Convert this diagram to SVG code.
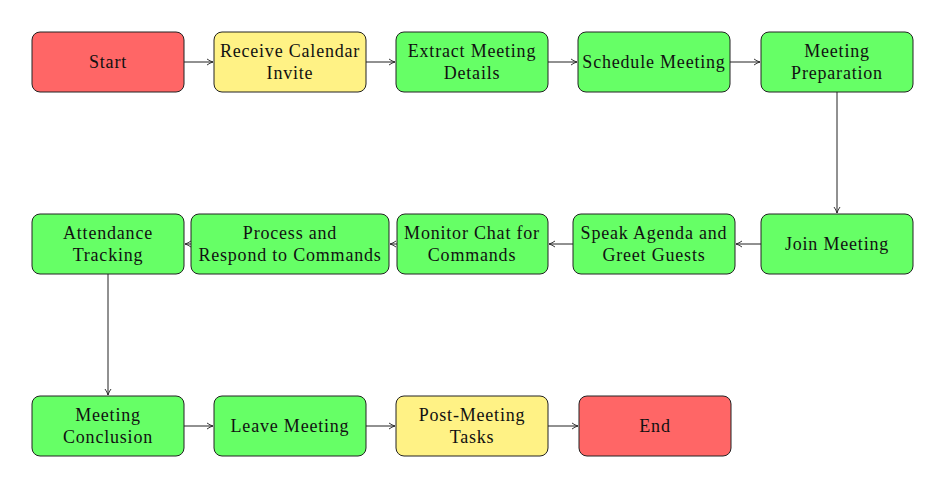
<svg xmlns="http://www.w3.org/2000/svg" width="950" height="490" viewBox="0 0 950 490">
<style>
rect{stroke:#222;stroke-width:1;}
.r{fill:#FF6666;} .y{fill:#FFF285;} .g{fill:#66FF66;}
text{font-family:"Liberation Serif","DejaVu Serif",serif;font-size:18px;letter-spacing:0.8px;fill:#111;text-anchor:middle;dominant-baseline:central;}
.c path{stroke:#222;stroke-width:1;fill:none;}
</style>
<defs>
<marker id="a" viewBox="0 0 8 8" refX="7" refY="4" markerWidth="8" markerHeight="8" markerUnits="userSpaceOnUse" orient="auto">
<path d="M1,1 Q4,3.2 7,4 Q4,4.8 1,7" fill="none" stroke="#222" stroke-width="0.9"/>
</marker>
</defs>
<g class="c">
<path d="M184,62H213" marker-end="url(#a)"/>
<path d="M366,62H395" marker-end="url(#a)"/>
<path d="M548,62H577" marker-end="url(#a)"/>
<path d="M730,62H760" marker-end="url(#a)"/>
<path d="M837,92V213" marker-end="url(#a)"/>
<path d="M761,244H736" marker-end="url(#a)"/>
<path d="M573,244H549" marker-end="url(#a)"/>
<path d="M397,244H390" marker-end="url(#a)"/>
<path d="M191,244H185" marker-end="url(#a)"/>
<path d="M108,274V395" marker-end="url(#a)"/>
<path d="M184,426H213" marker-end="url(#a)"/>
<path d="M366,426H395" marker-end="url(#a)"/>
<path d="M548,426H578" marker-end="url(#a)"/>
</g>
<g id="start"><rect class="r" x="32" y="32" width="152" height="60" rx="8"/><text x="108" y="62">Start</text></g>
<g id="receive"><rect class="y" x="214" y="32" width="152" height="60" rx="8"/><text x="290" y="51">Receive Calendar</text><text x="290" y="73">Invite</text></g>
<g id="extract"><rect class="g" x="396" y="32" width="152" height="60" rx="8"/><text x="472" y="51">Extract Meeting</text><text x="472" y="73">Details</text></g>
<g id="schedule"><rect class="g" x="578" y="32" width="152" height="60" rx="8"/><text x="654" y="62">Schedule Meeting</text></g>
<g id="prep"><rect class="g" x="761" y="32" width="152" height="60" rx="8"/><text x="837" y="51">Meeting</text><text x="837" y="73">Preparation</text></g>
<g id="join"><rect class="g" x="761" y="214" width="152" height="60" rx="8"/><text x="837" y="244">Join Meeting</text></g>
<g id="speak"><rect class="g" x="573" y="214" width="162" height="60" rx="8"/><text x="654" y="233">Speak Agenda and</text><text x="654" y="255">Greet Guests</text></g>
<g id="monitor"><rect class="g" x="397" y="214" width="151" height="60" rx="8"/><text x="472" y="233">Monitor Chat for</text><text x="472" y="255">Commands</text></g>
<g id="process"><rect class="g" x="191" y="214" width="198" height="60" rx="8"/><text x="290" y="233">Process and</text><text x="290" y="255">Respond to Commands</text></g>
<g id="attendance"><rect class="g" x="32" y="214" width="152" height="60" rx="8"/><text x="108" y="233">Attendance</text><text x="108" y="255">Tracking</text></g>
<g id="conclusion"><rect class="g" x="32" y="396" width="152" height="60" rx="8"/><text x="108" y="415">Meeting</text><text x="108" y="437">Conclusion</text></g>
<g id="leave"><rect class="g" x="214" y="396" width="152" height="60" rx="8"/><text x="290" y="426">Leave Meeting</text></g>
<g id="post"><rect class="y" x="396" y="396" width="152" height="60" rx="8"/><text x="472" y="415">Post-Meeting</text><text x="472" y="437">Tasks</text></g>
<g id="end"><rect class="r" x="579" y="396" width="152" height="60" rx="8"/><text x="655" y="426">End</text></g>
</svg>
